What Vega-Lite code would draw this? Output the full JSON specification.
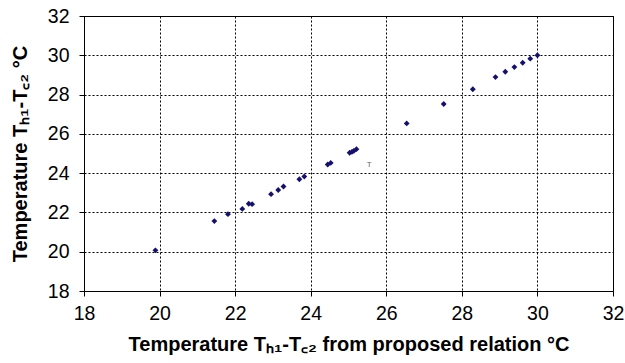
{
  "$schema": "https://vega.github.io/schema/vega-lite/v6.json",
  "width": 529,
  "height": 275,
  "autosize": "none",
  "padding": {"left": 84, "top": 16, "right": 12, "bottom": 72},
  "background": "white",
  "config": {
    "view": {"stroke": "black", "strokeWidth": 1},
    "axis": {
      "grid": true,
      "labelFont": "Liberation Sans",
      "labelFontSize": 19.5,
      "labelColor": "black",
      "labelOverlap": false,
      "labelBound": false,
      "labelFlush": false,
      "titleFont": "Liberation Sans",
      "titleFontSize": 20,
      "titleFontWeight": "bold",
      "titleColor": "black",
      "domainColor": "black",
      "tickColor": "black",
      "tickSize": 5,
      "gridColor": "#000000",
      "gridDash": [2, 2],
      "gridWidth": 1,
      "gridOpacity": 1
    }
  },
  "encoding": {
    "x": {
      "field": "x", "type": "quantitative",
      "scale": {"domain": [18, 32], "nice": false, "zero": false},
      "axis": {"values": [18, 20, 22, 24, 26, 28, 30, 32], "grid": true, "labelPadding": 8, "title": "Temperature Tₕ₁-T꜀₂  from proposed relation °C", "titlePadding": 12}
    },
    "y": {
      "field": "y", "type": "quantitative",
      "scale": {"domain": [18, 32], "nice": false, "zero": false},
      "axis": {"values": [18, 20, 22, 24, 26, 28, 30, 32], "grid": true, "labelPadding": 10, "title": "Temperature Tₕ₁-T꜀₂ °C", "titlePadding": 17}
    }
  },
  "layer": [
    {
      "data": {"values": [
        {"x": 19.89, "y": 20.07},
        {"x": 21.45, "y": 21.56},
        {"x": 21.81, "y": 21.91},
        {"x": 22.19, "y": 22.18},
        {"x": 22.36, "y": 22.44},
        {"x": 22.45, "y": 22.42},
        {"x": 22.95, "y": 22.93},
        {"x": 23.14, "y": 23.14},
        {"x": 23.28, "y": 23.32},
        {"x": 23.70, "y": 23.69},
        {"x": 23.83, "y": 23.83},
        {"x": 24.45, "y": 24.44},
        {"x": 24.53, "y": 24.52},
        {"x": 25.03, "y": 25.04},
        {"x": 25.09, "y": 25.08},
        {"x": 25.14, "y": 25.13},
        {"x": 25.21, "y": 25.22},
        {"x": 26.54, "y": 26.53},
        {"x": 27.52, "y": 27.52},
        {"x": 28.29, "y": 28.27},
        {"x": 28.89, "y": 28.89},
        {"x": 29.15, "y": 29.16},
        {"x": 29.39, "y": 29.40},
        {"x": 29.61, "y": 29.62},
        {"x": 29.81, "y": 29.83},
        {"x": 30.00, "y": 30.00}
      ]},
      "mark": {"type": "point", "shape": "diamond", "filled": true, "size": 34, "color": "#14106e", "opacity": 1}
    },
    {
      "data": {"values": [{"x": 25.55, "y": 24.4, "label": "T"}]},
      "mark": {"type": "text", "font": "Liberation Sans", "fontSize": 8, "color": "#666666"},
      "encoding": {
        "text": {"field": "label"}
      }
    }
  ]
}
